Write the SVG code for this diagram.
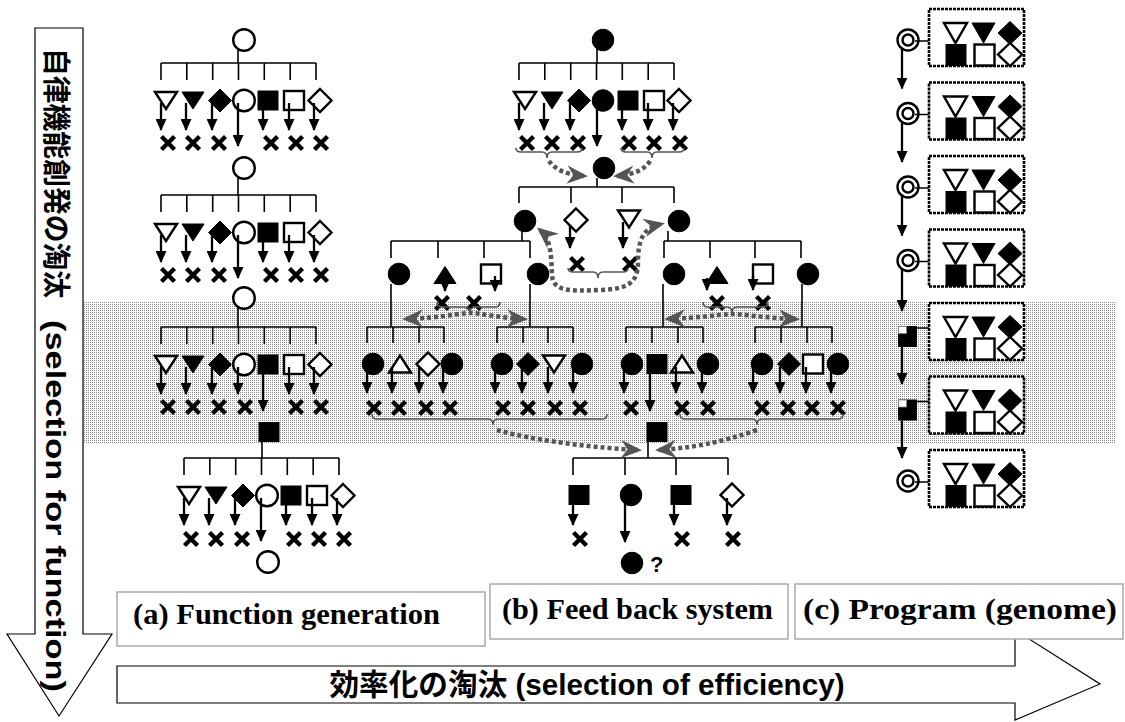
<svg xmlns="http://www.w3.org/2000/svg" width="1125" height="722" viewBox="0 0 1125 722">
<style>
.ln{stroke:#000;stroke-width:1.6;fill:none}
.ar{stroke:#000;stroke-width:2.3;fill:none;marker-end:url(#ah)}
.xm{stroke:#000;stroke-width:4.3;fill:none}
.o{fill:#fff;stroke:#000;stroke-width:2.4}
.f{fill:#000;stroke:#000;stroke-width:1}
.gd{stroke:#555;stroke-width:4.5;stroke-dasharray:4 3;fill:none;marker-end:url(#gh)}
.gd2{marker-start:url(#gh)}
.br{stroke:#555;stroke-width:1.6;fill:none}
.bx{fill:#fff;stroke:#000;stroke-width:2.6;stroke-dasharray:3 1}
.lb{fill:#fff;stroke:#aaa;stroke-width:1.5}
.lt{font-family:"Liberation Serif","Times New Roman",serif;font-weight:bold;font-size:29px;fill:#000}
.big{font-family:"Liberation Sans",Arial,"Noto Sans CJK JP",sans-serif;font-weight:bold;fill:#000}
.arw{fill:#fff;stroke:#000;stroke-width:1.2}
</style>
<defs>
<pattern id="dots" width="2" height="2" patternUnits="userSpaceOnUse"><rect width="1" height="1" fill="#8a8a8a"/></pattern>
<marker id="ah" viewBox="0 0 12 11" refX="11" refY="5.5" markerWidth="12" markerHeight="11" markerUnits="userSpaceOnUse" orient="auto"><path d="M0,0L12,5.5L0,11z" fill="#000"/></marker>
<marker id="gh" viewBox="0 0 16 14" refX="13" refY="7" markerWidth="21" markerHeight="19" markerUnits="userSpaceOnUse" orient="auto-start-reverse"><path d="M0,0L16,7L0,14L5,7z" fill="#555"/></marker>
<polygon id="tD" points="-11,-8.5 11,-8.5 0,8.5"/>
<polygon id="tU" points="-11,8.5 11,8.5 0,-8.5"/>
<polygon id="dm" points="0,-11.5 11.5,0 0,11.5 -11.5,0"/>
<rect id="sq" x="-10" y="-9.5" width="20" height="19"/>
<circle id="ci" r="10.8"/>
<path id="xx" d="M-6.5,-6.5L6.5,6.5M6.5,-6.5L-6.5,6.5"/>
<polygon id="tD2" points="-11.5,-10 11.5,-10 0,10"/>
<polygon id="dm2" points="0,-11.5 12,0 0,11.5 -12,0"/>
<rect id="sq2" x="-10" y="-10.5" width="20" height="21"/>
</defs>

<rect x="0" y="0" width="1125" height="722" fill="#fff"/>
<rect id="band" x="83" y="302" width="1032" height="141" fill="url(#dots)"/>

<g id="arrow-function">
<polygon class="arw" points="35,28 83,28 83,634 112,634 59,716 7,634 35,634"/>
<text class="big" font-size="28" transform="translate(56,48) rotate(90)" x="0" y="10"><tspan textLength="250" lengthAdjust="spacingAndGlyphs">自律機能創発の淘汰</tspan> <tspan x="272" textLength="372" lengthAdjust="spacingAndGlyphs">(selection for function)</tspan></text>
</g>
<g id="arrow-efficiency">
<polygon class="arw" points="117,666 1015,666 1015,630 1100,684 1015,720 1015,703 117,703"/>
<text class="big" font-size="30" x="587" y="695" text-anchor="middle" textLength="515" lengthAdjust="spacingAndGlyphs">効率化の淘汰 (selection of efficiency)</text>
</g>
<g id="label-a"><rect class="lb" x="117" y="592" width="368" height="54"/><text class="lt" x="133" y="624" textLength="307" lengthAdjust="spacingAndGlyphs">(a) Function generation</text></g>
<g id="label-b"><rect class="lb" x="490" y="584" width="298" height="55"/><text class="lt" x="502" y="619" textLength="271" lengthAdjust="spacingAndGlyphs">(b) Feed back system</text></g>
<g id="label-c"><rect class="lb" x="795" y="584" width="328" height="55"/><text class="lt" x="803" y="619" textLength="314" lengthAdjust="spacingAndGlyphs">(c) Program (genome)</text></g>

<g id="a1">
<use href="#ci" class="o" x="244" y="40"/>
<g transform="translate(161,63)">
<use href="#tD" class="o" x="5" y="37.5"/><use href="#tD" class="f" x="32" y="37.5"/><use href="#dm" class="f" x="59" y="37.5"/><use href="#ci" class="o" x="83" y="37.5"/><use href="#sq" class="f" x="107" y="37.5"/><use href="#sq" class="o" x="133" y="37.5"/><use href="#dm" class="o" x="159" y="37.5"/>
<use href="#xx" class="xm" x="7" y="80"/><use href="#xx" class="xm" x="32" y="80"/><use href="#xx" class="xm" x="58" y="80"/><use href="#xx" class="xm" x="110" y="80"/><use href="#xx" class="xm" x="135" y="80"/><use href="#xx" class="xm" x="160" y="80"/>
</g></g>
<g id="a2">
<use href="#ci" class="o" x="244" y="168"/>
<g transform="translate(161,195)">
<use href="#tD" class="o" x="5" y="37.5"/><use href="#tD" class="f" x="32" y="37.5"/><use href="#dm" class="f" x="59" y="37.5"/><use href="#ci" class="o" x="83" y="37.5"/><use href="#sq" class="f" x="107" y="37.5"/><use href="#sq" class="o" x="133" y="37.5"/><use href="#dm" class="o" x="159" y="37.5"/>
<use href="#xx" class="xm" x="7" y="80"/><use href="#xx" class="xm" x="32" y="80"/><use href="#xx" class="xm" x="58" y="80"/><use href="#xx" class="xm" x="110" y="80"/><use href="#xx" class="xm" x="135" y="80"/><use href="#xx" class="xm" x="160" y="80"/>
</g></g>
<g id="a3">
<use href="#ci" class="o" x="244" y="298"/>
<g transform="translate(161,327)">
<use href="#tD" class="o" x="5" y="37.5"/><use href="#tD" class="f" x="32" y="37.5"/><use href="#dm" class="f" x="59" y="37.5"/><use href="#ci" class="o" x="83" y="37.5"/><use href="#sq" class="f" x="107" y="37.5"/><use href="#sq" class="o" x="133" y="37.5"/><use href="#dm" class="o" x="159" y="37.5"/>
<use href="#xx" class="xm" x="7" y="80"/><use href="#xx" class="xm" x="32" y="80"/><use href="#xx" class="xm" x="58" y="80"/><use href="#xx" class="xm" x="84" y="80"/><use href="#xx" class="xm" x="135" y="80"/><use href="#xx" class="xm" x="160" y="80"/>
</g></g>
<g id="a4">
<use href="#sq" class="f" x="269" y="432"/>
<g transform="translate(184,458)">
<use href="#tD" class="o" x="5" y="37.5"/><use href="#tD" class="f" x="32" y="37.5"/><use href="#dm" class="f" x="59" y="37.5"/><use href="#ci" class="o" x="83" y="37.5"/><use href="#sq" class="f" x="107" y="37.5"/><use href="#sq" class="o" x="133" y="37.5"/><use href="#dm" class="o" x="159" y="37.5"/>
<use href="#xx" class="xm" x="7" y="81"/><use href="#xx" class="xm" x="32" y="81"/><use href="#xx" class="xm" x="58" y="81"/><use href="#xx" class="xm" x="110" y="81"/><use href="#xx" class="xm" x="135" y="81"/><use href="#xx" class="xm" x="160" y="81"/>
</g>
<use href="#ci" class="o" x="268" y="562"/>
</g>

<g id="b1">
<use href="#ci" class="f" x="603" y="40"/>
<g transform="translate(519,63)">
<use href="#tD" class="o" x="6" y="37.5"/><use href="#tD" class="f" x="33" y="37.5"/><use href="#dm" class="f" x="60" y="37.5"/><use href="#ci" class="f" x="84" y="37.5"/><use href="#sq" class="f" x="109" y="37.5"/><use href="#sq" class="o" x="135" y="37.5"/><use href="#dm" class="o" x="160" y="37.5"/>
<use href="#xx" class="xm" x="8" y="80"/><use href="#xx" class="xm" x="33" y="80"/><use href="#xx" class="xm" x="59" y="80"/><use href="#xx" class="xm" x="110" y="80"/><use href="#xx" class="xm" x="135" y="80"/><use href="#xx" class="xm" x="161" y="80"/>
</g></g>
<g id="b2">
<use href="#ci" class="f" x="604" y="168"/>
<use href="#ci" class="f" x="525" y="221"/>
<use href="#dm" class="o" x="576" y="220"/>
<use href="#tD" class="o" x="629" y="219"/>
<use href="#ci" class="f" x="679" y="221"/>
<use href="#xx" class="xm" x="577" y="264"/><use href="#xx" class="xm" x="630" y="264"/>
</g>
<g id="b3-left">
<use href="#ci" class="f" x="399" y="274"/>
<use href="#tU" class="f" x="445" y="275"/>
<use href="#sq" class="o" x="491" y="274"/>
<use href="#ci" class="f" x="538" y="274"/>
<use href="#xx" class="xm" x="442" y="303"/><use href="#xx" class="xm" x="474" y="303"/>
</g>
<g id="b3-right">
<use href="#ci" class="f" x="674" y="274"/>
<use href="#tU" class="f" x="717" y="275"/>
<use href="#sq" class="o" x="763" y="274"/>
<use href="#ci" class="f" x="808" y="274"/>
<use href="#xx" class="xm" x="717" y="303"/><use href="#xx" class="xm" x="763" y="303"/>
</g>
<g id="b4-g1">
<use href="#ci" class="f" x="373" y="364"/><use href="#tU" class="o" x="400" y="364"/><use href="#dm" class="o" x="428" y="364"/><use href="#ci" class="f" x="452" y="364"/>
<use href="#xx" class="xm" x="374" y="408"/><use href="#xx" class="xm" x="399" y="408"/><use href="#xx" class="xm" x="426" y="408"/><use href="#xx" class="xm" x="450" y="408"/>
</g>
<g id="b4-g2">
<use href="#ci" class="f" x="502" y="364"/><use href="#dm" class="f" x="528" y="364"/><use href="#tD" class="o" x="554" y="364"/><use href="#ci" class="f" x="582" y="364"/>
<use href="#xx" class="xm" x="503" y="408"/><use href="#xx" class="xm" x="528" y="408"/><use href="#xx" class="xm" x="555" y="408"/><use href="#xx" class="xm" x="580" y="408"/>
</g>
<g id="b4-g3">
<use href="#ci" class="f" x="632" y="364"/><use href="#sq" class="f" x="657" y="364"/><use href="#tU" class="o" x="682" y="364"/><use href="#ci" class="f" x="708" y="364"/>
<use href="#xx" class="xm" x="631" y="408"/><use href="#xx" class="xm" x="682" y="408"/><use href="#xx" class="xm" x="708" y="408"/>
</g>
<g id="b4-g4">
<use href="#ci" class="f" x="762" y="364"/><use href="#dm" class="f" x="789" y="364"/><use href="#sq" class="o" x="813" y="364"/><use href="#ci" class="f" x="838" y="364"/>
<use href="#xx" class="xm" x="762" y="408"/><use href="#xx" class="xm" x="788" y="408"/><use href="#xx" class="xm" x="812" y="408"/><use href="#xx" class="xm" x="838" y="408"/>
</g>
<g id="b5">
<use href="#sq" class="f" x="657" y="432"/>
<use href="#sq" class="f" x="579" y="495"/><use href="#ci" class="f" x="631" y="495"/><use href="#sq" class="f" x="681" y="495"/><use href="#dm" class="o" x="732" y="495"/>
<use href="#xx" class="xm" x="580" y="539"/><use href="#xx" class="xm" x="682" y="539"/><use href="#xx" class="xm" x="733" y="539"/>
<use href="#ci" class="f" x="632" y="563"/>
<text class="big" font-size="22" x="650" y="572">?</text>
</g>
<g id="braces" class="br">
<path d="M516,148Q516,152 521,152L542,152Q547,152 547,158Q547,152 552,152L577,152Q582,152 582,148"/>
<path d="M621,148Q621,152 626,152L647,152Q652,152 652,158Q652,152 657,152L679,152Q684,152 684,148"/>
<path d="M568,268Q568,272 573,272L593,272Q598,272 598,278Q598,272 603,272L623,272Q628,272 628,268"/>
<path d="M437,302Q437,307 442,307L465,307Q470,307 470,313Q470,307 475,307L495,307Q500,307 500,302"/>
<path d="M703,302Q703,307 708,307L727,307Q732,307 732,313Q732,307 737,307L763,307Q768,307 768,302"/>
<path d="M372,414Q372,419 377,419L488,419Q493,419 493,425Q493,419 498,419L602,419Q607,419 607,414"/>
<path d="M680,414Q680,419 685,419L752,419Q757,419 757,425Q757,419 762,419L838,419Q843,419 843,414"/>
</g>

<g id="c1" transform="translate(0,9)">
<rect class="bx" x="929" y="0" width="95" height="57"/>
<use href="#tD2" class="o" x="955.5" y="24"/><use href="#tD2" class="f" x="983.5" y="24"/><use href="#dm2" class="f" x="1010" y="24"/>
<use href="#sq2" class="f" x="956" y="46"/><use href="#sq2" class="o" x="984.5" y="46"/><use href="#dm2" class="o" x="1010" y="45.5"/>
<circle class="o" cx="908" cy="31" r="10.5"/><circle class="o" cx="908" cy="31" r="5.5"/>
</g>
<g id="c2" transform="translate(0,82.5)">
<rect class="bx" x="929" y="0" width="95" height="57"/>
<use href="#tD2" class="o" x="955.5" y="24"/><use href="#tD2" class="f" x="983.5" y="24"/><use href="#dm2" class="f" x="1010" y="24"/>
<use href="#sq2" class="f" x="956" y="46"/><use href="#sq2" class="o" x="984.5" y="46"/><use href="#dm2" class="o" x="1010" y="45.5"/>
<circle class="o" cx="908" cy="31" r="10.5"/><circle class="o" cx="908" cy="31" r="5.5"/>
</g>
<g id="c3" transform="translate(0,156)">
<rect class="bx" x="929" y="0" width="95" height="57"/>
<use href="#tD2" class="o" x="955.5" y="24"/><use href="#tD2" class="f" x="983.5" y="24"/><use href="#dm2" class="f" x="1010" y="24"/>
<use href="#sq2" class="f" x="956" y="46"/><use href="#sq2" class="o" x="984.5" y="46"/><use href="#dm2" class="o" x="1010" y="45.5"/>
<circle class="o" cx="908" cy="31" r="10.5"/><circle class="o" cx="908" cy="31" r="5.5"/>
</g>
<g id="c4" transform="translate(0,229.5)">
<rect class="bx" x="929" y="0" width="95" height="57"/>
<use href="#tD2" class="o" x="955.5" y="24"/><use href="#tD2" class="f" x="983.5" y="24"/><use href="#dm2" class="f" x="1010" y="24"/>
<use href="#sq2" class="f" x="956" y="46"/><use href="#sq2" class="o" x="984.5" y="46"/><use href="#dm2" class="o" x="1010" y="45.5"/>
<circle class="o" cx="908" cy="31" r="10.5"/><circle class="o" cx="908" cy="31" r="5.5"/>
</g>
<g id="c5" transform="translate(0,303)">
<rect class="bx" x="929" y="0" width="95" height="57"/>
<use href="#tD2" class="o" x="955.5" y="24"/><use href="#tD2" class="f" x="983.5" y="24"/><use href="#dm2" class="f" x="1010" y="24"/>
<use href="#sq2" class="f" x="956" y="46"/><use href="#sq2" class="o" x="984.5" y="46"/><use href="#dm2" class="o" x="1010" y="45.5"/>
<rect x="898" y="23" width="19" height="21" fill="#000"/><rect x="898.5" y="23.5" width="8" height="7" fill="#fff" stroke="#888" stroke-width="0.8"/>
</g>
<g id="c6" transform="translate(0,376.5)">
<rect class="bx" x="929" y="0" width="95" height="57"/>
<use href="#tD2" class="o" x="955.5" y="24"/><use href="#tD2" class="f" x="983.5" y="24"/><use href="#dm2" class="f" x="1010" y="24"/>
<use href="#sq2" class="f" x="956" y="46"/><use href="#sq2" class="o" x="984.5" y="46"/><use href="#dm2" class="o" x="1010" y="45.5"/>
<rect x="898" y="23" width="19" height="21" fill="#000"/><rect x="898.5" y="23.5" width="8" height="7" fill="#fff" stroke="#888" stroke-width="0.8"/>
</g>
<g id="c7" transform="translate(0,450)">
<rect class="bx" x="929" y="0" width="95" height="57"/>
<use href="#tD2" class="o" x="955.5" y="24"/><use href="#tD2" class="f" x="983.5" y="24"/><use href="#dm2" class="f" x="1010" y="24"/>
<use href="#sq2" class="f" x="956" y="46"/><use href="#sq2" class="o" x="984.5" y="46"/><use href="#dm2" class="o" x="1010" y="45.5"/>
<circle class="o" cx="908" cy="31" r="10.5"/><circle class="o" cx="908" cy="31" r="5.5"/>
</g>

<g id="connectors">
<g class="ln">
<path d="M238,49V63M238,177V195M238,307V327M262,442V458M597,49V63M597,178V187"/>
<path transform="translate(161,63)" d="M0,0H155M0,0V17M25.8,0V17M51.7,0V17M77.5,0V17M103.3,0V17M129.2,0V17M155,0V17"/>
<path transform="translate(161,195)" d="M0,0H155M0,0V17M25.8,0V17M51.7,0V17M77.5,0V17M103.3,0V17M129.2,0V17M155,0V17"/>
<path transform="translate(161,327)" d="M0,0H155M0,0V17M25.8,0V17M51.7,0V17M77.5,0V17M103.3,0V17M129.2,0V17M155,0V17"/>
<path transform="translate(184,458)" d="M0,0H155M0,0V17M25.8,0V17M51.7,0V17M77.5,0V17M103.3,0V17M129.2,0V17M155,0V17"/>
<path transform="translate(519,63)" d="M0,0H155M0,0V17M25.8,0V17M51.7,0V17M77.5,0V17M103.3,0V17M129.2,0V17M155,0V17"/>
<path d="M519,187H674M519,187V203M571,187V203M622,187V203M674,187V203"/>
<path d="M522,231V241M391,241H530M391,241V258M438,241V258M484,241V258M530,241V258"/>
<path d="M668,231V241M664,241H801M664,241V258M710,241V258M755,241V258M801,241V258"/>
<path d="M391,284V327M530,284V327M663,284V327M802,284V327"/>
<path d="M367,327H444M367,327V343M393,327V343M419,327V343M444,327V343"/>
<path d="M497,327H573M497,327V343M523,327V343M548,327V343M573,327V343"/>
<path d="M626,327H703M626,327V343M652,327V343M678,327V343M703,327V343"/>
<path d="M755,327H832M755,327V343M781,327V343M807,327V343M832,327V343"/>
<path d="M648,442V458M573,458H728M573,458V475M625,458V475M676,458V475M728,458V475"/>
<path d="M915,41H929M915,114.5H929M915,188H929M915,261.5H929M917,328H929M917,401.5H929M915,482H929"/>
</g>
<g class="ar">
<g transform="translate(161,63)"><path d="M0,40V67"/><path d="M25,40V67"/><path d="M51,40V67"/><path d="M77,40V83"/><path d="M102,40V67"/><path d="M128,40V67"/><path d="M153,40V67"/></g>
<g transform="translate(161,195)"><path d="M0,40V67"/><path d="M25,40V67"/><path d="M51,40V67"/><path d="M77,40V83"/><path d="M102,40V67"/><path d="M128,40V67"/><path d="M153,40V67"/></g>
<g transform="translate(161,327)"><path d="M0,40V67"/><path d="M25,40V67"/><path d="M51,40V67"/><path d="M77,40V67"/><path d="M102,40V84"/><path d="M128,40V67"/><path d="M153,40V67"/></g>
<g transform="translate(184,458)"><path d="M0,40V67"/><path d="M25,40V67"/><path d="M51,40V67"/><path d="M77,40V83"/><path d="M102,40V67"/><path d="M128,40V67"/><path d="M153,40V67"/></g>
<g transform="translate(519,63)"><path d="M0,40V67"/><path d="M25,40V67"/><path d="M51,40V67"/><path d="M78,40V83"/><path d="M103,40V67"/><path d="M129,40V67"/><path d="M154,40V67"/></g>
<path d="M570,225V248"/><path d="M623,222V248"/>
<path d="M445,279V291"/><path d="M495,276V291"/>
<path d="M707,278V290"/><path d="M753,276V290"/>
<path d="M367,367V393"/><path d="M392,367V393"/><path d="M419,367V393"/><path d="M443,367V393"/>
<path d="M495,367V393"/><path d="M522,367V393"/><path d="M548,367V393"/><path d="M573,367V393"/>
<path d="M624,367V393"/><path d="M650,367V411"/><path d="M676,367V393"/><path d="M702,367V393"/>
<path d="M753,367V393"/><path d="M780,367V393"/><path d="M806,367V393"/><path d="M831,367V393"/>
<path d="M573,498V525"/><path d="M625,498V542"/><path d="M674,498V525"/><path d="M727,498V525"/>
<path d="M902,49V88.5"/><path d="M902,122.5V162"/><path d="M902,196V235.5"/><path d="M902,269.5V311"/><path d="M902,347V384"/><path d="M902,420.5V458"/>
</g>
<g class="gd">
<path d="M549,161Q558,174 584,176"/>
<path d="M650,161Q642,174 617,176"/>
<path class="gd2" d="M540,230C552,240 551,258 552,275C553,292 570,291 600,290C628,289 638,283 638,262C638,240 643,228 661,224"/>
<path class="gd2" d="M406,319C440,318 460,313 470,313C480,313 500,318 524,319"/>
<path class="gd2" d="M668,319C700,318 722,314 732,314C742,314 765,318 796,319"/>
<path d="M497,430C540,442 600,448 638,450"/>
<path d="M757,430C720,443 690,448 659,450"/>
</g>
</g>
</svg>
